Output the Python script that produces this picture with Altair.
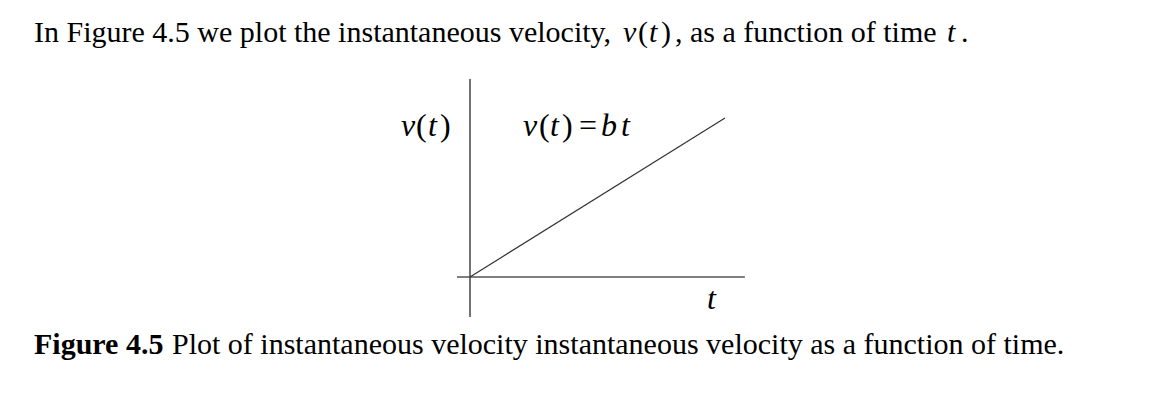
import altair as alt
import pandas as pd

# ---- data ----
line_t = [0.0, 1.0]          # time
line_v = [0.0, 1.0]          # v(t) = b t with b = 1
haxis_t = [-0.051, 1.078]    # horizontal axis extent (t)
vaxis_v = [-0.252, 1.245]    # vertical axis extent (v)

intro_text = ["In Figure 4.5 we plot the instantaneous velocity,", ", as a function of time", "t", "."]
caption_bold = "Figure 4.5"
caption_text = "Plot of instantaneous velocity instantaneous velocity as a function of time."
vt_chars = ["v", "(", "t", ")"]
eq_chars = ["v", "(", "t", ")", "=", "b", "t"]
xlabel = "t"

W, H = 1148, 395
xdom = [-462 / 255, 686 / 255]
ydom = [-126 / 159, 269 / 159]
xs = alt.Scale(domain=xdom, zero=False, nice=False)
ys = alt.Scale(domain=ydom, zero=False, nice=False)
FONT = "Liberation Serif"
O = 8  # page margin

line_df = pd.DataFrame({"t": line_t, "v": line_v})
h_df = pd.DataFrame({"t": [haxis_t[0]], "t2": [haxis_t[1]], "v": [0.0]})
v_df = pd.DataFrame({"t": [0.0], "v": [vaxis_v[0]], "v2": [vaxis_v[1]]})

hax = alt.Chart(h_df).mark_rule(color="#555555", strokeWidth=1.3).encode(
    x=alt.X("t:Q", scale=xs, axis=None), x2="t2:Q",
    y=alt.Y("v:Q", scale=ys, axis=None))
vax = alt.Chart(v_df).mark_rule(color="#444444", strokeWidth=1.5).encode(
    x=alt.X("t:Q", scale=xs, axis=None),
    y=alt.Y("v:Q", scale=ys, axis=None), y2="v2:Q")
ln = alt.Chart(line_df).mark_line(color="#333333", strokeWidth=1.2).encode(
    x=alt.X("t:Q", scale=xs, axis=None),
    y=alt.Y("v:Q", scale=ys, axis=None))


def seg(text, x, y, size, style="normal", weight="normal"):
    return alt.Chart(pd.DataFrame({"s": [text]})).mark_text(
        font=FONT, fontSize=size, fontStyle=style, fontWeight=weight,
        align="left", baseline="alphabetic", color="#000000").encode(
        x=alt.value(x - O), y=alt.value(y - O), text="s:N")


def math(chars, xs_, y, size):
    out = []
    for ch, x in zip(chars, xs_):
        style = "italic" if ch.isalpha() else "normal"
        out.append(seg(ch, x, y, size, style))
    return out


TOP_Y = 42
CAP_Y = 354
layers = [hax, vax, ln,
          seg(intro_text[0], 34, TOP_Y, 30)]
layers += math(vt_chars, [623, 638, 649, 661], TOP_Y, 30)
layers += [
    seg(intro_text[1], 675, TOP_Y, 30),
    seg(intro_text[2], 947, TOP_Y, 30, "italic"),
    seg(intro_text[3], 961, TOP_Y, 30),
]
layers += math(vt_chars, [401, 416, 428, 440], 136, 32)
layers += math(eq_chars, [523, 539, 550, 562, 579, 601, 621], 136, 32)
layers += [
    seg(xlabel, 707, 309, 32, "italic"),
    seg(caption_bold, 34, CAP_Y, 30, weight="bold"),
    seg(caption_text, 172, CAP_Y, 30),
]

chart = alt.layer(*layers).properties(
    width=W, height=H, padding=0, background="white"
).configure_view(stroke=None)

chart.save("out.html", embed_options={"renderer": "svg", "actions": False})
